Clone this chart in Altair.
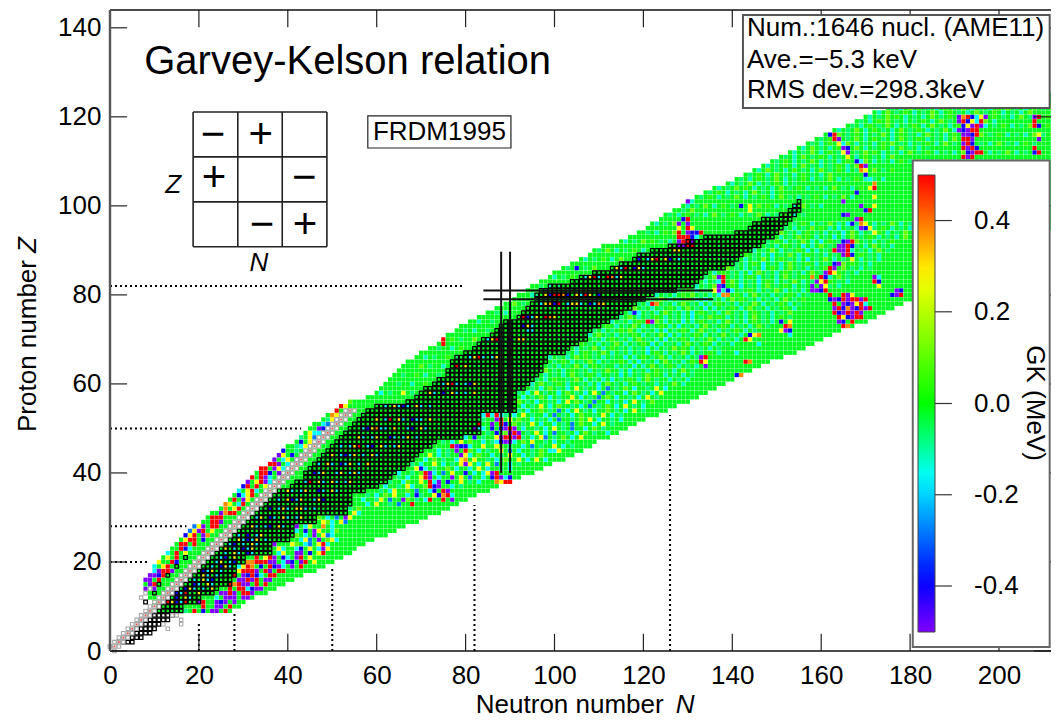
import altair as alt
import pandas as pd

FONT = "Liberation Sans"
XMAX, YMAX = 211.7, 144

# --- extent of the calculated table, one entry per Z (from Z=9)
Z_FIRST = 9
N_MIN = [11,10,10,9,9,8,8,8,9,10,10,11,12,13,14,15,16,17,18,19,21,22,23,25,26,27,28,29,30,31,32,33,34,36,37,38,39,40,42,43,44,45,46,48,49,51,52,54,
         58,60,61,62,63,64,65,66,67,69,70,72,74,75,76,78,79,81,83,85,87,89,91,92,94,95,97,99,100,102,104,106,108,109,111,115,117,119,121,122,124,125,127,129,130,132,134,136,139,141,143,145,147,149,151,153,155,157,159,161,163,166,168,170,172,175,178,180,183]
N_MAX = [27,29,30,32,35,37,39,41,43,46,48,50,52,54,55,57,59,62,64,66,69,71,74,76,78,80,82,85,87,90,92,95,97,99,102,104,106,108,109,112,114,116,118,120,123,125,127,130,
         132,134,136,138,140,142,144,146,148,151,154,156,158,160,162,164,167,170,172,174,176,178,180,182,184,186,188,190,192,194,196,198,200,202,204,206,208,210,212,214,214,214,214,214,214,214,214,214,214,214,214,214,214,214,214,214,214,214,214,214,214,214,214,214,214,214,214,214,214]

# --- measured nuclei (black squares): first and last N per Z (from Z=2)
BAND_Z_FIRST = 2
BAND_L = [3,4,5,6,7,8,9,11,11,12,13,15,16,17,18,19,20,21,22,23,24,25,26,27,28,29,30,31,32,33,34,35,36,37,38,41,42,44,44,45,46,47,48,49,50,51,52,53,54,55,56,57,58,60,67,69,70,71,73,74,76,76,77,77,78,80,82,83,84,86,87,88,89,92,93,94,95,96,96,97,99,104,106,109,113,115,118,119,122,126,130,134,141,144,145,147,151,153,154,155]
BAND_R = [5,7,9,10,11,13,14,16,16,20,20,23,24,27,27,28,28,28,30,30,36,36,36,40,41,41,41,46,46,53,53,54,54,54,57,60,62,63,64,66,67,68,69,70,72,73,79,83,83,83,83,83,91,91,91,91,91,93,94,95,96,97,97,98,98,102,103,105,107,107,108,110,112,114,115,117,118,120,122,127,131,132,133,134,138,140,141,142,144,146,147,149,150,151,152,153,154,155,155,155]
EXTRA_BLACK_N = [8,10,11,13,15,17]
EXTRA_BLACK_Z = [11,13,15,17,19,21]

# --- light-grey squares around N=Z
GRAY_Z_LAST = 54
GRAY_EXTRA_N = [0,1,2,3,7,8,9,14,15,16,12,13,16]
GRAY_EXTRA_Z = [1,0,2,3,12,13,14,8,8,6,6,5,7]

# --- colour codes
CODES = {"p":-0.5,"b":-0.4,"a":-0.28,"c":-0.16,"t":-0.08,"g":-0.02,"l":0.1,"y":0.28,"o":0.38,"r":0.5}
# the speckle above Z=60 is paler than the strong cells
SOFT_CODES = {"a":-0.17,"c":-0.12,"t":-0.07,"l":0.05,"y":0.11,"b":-0.4,"p":-0.5,"r":0.5}
SOFT_FROM_Z = 60

# fine speckle of the green area, estimated row by row (Z, first N, cells)
SPECKLE = [
 (33,56,"..c.y..t.ag.r.."),(34,57,"c..ty.a..pl.t.cr."),(35,58,"t.c.l.y..c.bt..y.g.c"),(36,59,"..t.cy..l.a..c.y.p.."),
 (37,61,".c..t.yc..l.r.b.c.t.."),(38,63,"t..cl..y.a..cb..y.t.c."),(39,64,".t.c..y.l.c..p.y.a..c."),(40,65,"c..t.l..c.a.y..b.c..t."),
 (41,67,"..y.c.t..l.c.a..y.c..t.c"),(42,68,"t.c..y.c.t...l.c.y.a..c.t"),(43,70,".c.l.t..c.a.y..t.c.l..y.c."),(44,72,"y.c.t..a.c.l..c.t.y..c.t.l."),
 (45,74,"c.t.b..l.c.t..y.a.c..t.l.c.."),(46,75,"..r.t.c..y.c.l.t..c.a.t..y.c.t"),(47,75,"t.c.y.l..c.t..a.c.l.y..t.c..t."),(48,80,"c.b.t..y.c.l.t.c..a.t.l.c.y."),
 (49,84,".t.c.l.c..t.y.c.a..t.c.l.t..c."),(50,84,"c..y.t.l.c..t.c.y.t.a..c.l.t."),(51,84,"..t.c..l.t.y.c..c.t.a.l..c.y.t"),(52,84,"t.c.t.y.l..c.t.c.a..t.l.y.c..t.c"),
 (53,84,"c.l..t.c.y.t..c.a.t.c.l..t.y.c.t"),(54,92,"t.c..l.t.a.c.y.t.c..l.t.c.y.t."),(55,92,".c.t.y.c.l..t.c.a.t.l.c.y.t.c.."),(56,92,"l.t.c..t.c.y.l.t.a..c.t.c.y.t.l"),
 (57,92,".c.t.l.c.t..y.c.t.a.l.c..t.c.y.t"),(58,92,"t.c.y.t..c.l.t.c.y.a.t..c.l.t.c.y"),(59,94,".t.c.l.t.c.y.t..c.a.t.l.c..t.y.c"),(60,95,"c.y.t.l.c..t.c.a.y.t.c.l.t..c.t.y.c"),
 (61,96,"t.c.l..t.y.c.t.c.a.t.l.c.y.t..c.t.c"),(62,97,".c.t.c.y.t.l.c..t.a.c.t.y.l.c.t.c.t"),(63,98,"y.t.c.l.t.c.t.y..c.a.t.c.l.t.c.y.t"),(64,99,"t.c.t.y.c.l.t..c.t.a.c.y.t.l.c.t.c."),
 (65,99,".t.l.c.t.y.c.t..l.c.a.t.c.y.t.c.l.t"),(66,99,"c.t.c.y.l.t.c.t..a.c.l.t.y.c.t.c.t.l"),(67,103,"t.c.l.t.y.c.t.c.t.a.l.c.t.y.c.t.l.c"),(68,104,".c.t.y.c.l.t.c.t.a.c.t.y.l.c.t.c.t"),
 (69,106,"l.t.c.t.y.c.t.l.a.c.t.c.y.t.l.c.t.c"),(70,108,".t.c.l.t.c.y.t.c.a.t.l.c.t.y.c.t.c.l"),(71,108,"c.y.t.c.t.l.c.t.y.a.c.t.l.c.t.y.t.c"),(72,109,"t.c.t.l.y.c.t.c.a.t.l.c.y.t.c.t.l.c.t"),
 (73,111,".l.c.t.y.c.t.l.c.a.t.c.y.t.l.c.t.c.y.t"),(74,113,"c.t.c.l.t.y.c.t.a.c.l.t.c.y.t.c.l.t.c"),(75,115,"t.y.c.t.l.c.t.c.a.t.y.l.c.t.c.y.t.c.l.t"),(76,116,".c.l.t.c.y.t.c.a.l.t.c.y.t.c.l.t.c.t.y"),
 (77,118,"y.t.c.t.l.c.y.t.a.c.t.l.c.y.t.c.t.l.c"),(78,119,"t.c.l.t.c.y.t.a.c.l.t.c.t.y.c.t.l.c.t"),(79,121,".t.y.c.t.l.c.a.t.c.y.l.t.c.t.c.y.t.l"),(80,123,"c.t.c.l.y.t.c.a.t.l.c.y.t.c.t.l.c.t"),
 (81,128,"t.l.c.t.y.c.a.t.l.c.t.y.c.t.c.l.t"),(82,132,"c.t.y.c.l.a.t.c.y.t.l.c.t.c.y.t.c"),(83,133,".c.t.l.y.c.t.a.l.c.t.y.c.t.c.l.t.c"),(84,134,"t.y.c.t.c.l.a.t.c.y.t.l.c.t.c.y.t"),
 (85,135,".c.l.t.c.a.y.t.c.l.t.c.y.t.c.l.t.c"),(86,139,"y.t.c.t.a.l.c.y.t.c.t.l.c.y.t.c.t"),(87,141,"t.c.l.a.t.c.y.t.l.c.t.c.y.l.t.c."),(88,142,".c.t.y.c.l.t.c.a.t.y.c.t.l.c.t.c"),
 (89,143,"l.t.c.a.t.y.c.l.t.c.t.y.c.l.t.c"),(90,145,"c.t.y.c.t.l.a.c.t.y.l.c.t.c.y.t"),(91,147,".t.c.l.t.a.c.y.t.l.c.t.c.y.t.c"),(92,148,"t.l.c.t.y.c.a.l.t.c.y.t.c.t.l."),
 (93,150,".c.t.y.l.c.t.a.c.y.t.l.c.t.c.y"),(94,151,"y.t.c.l.t.c.t.a.y.c.t.l.c.t.y."),(95,152,"t.c.t.y.l.c.a.t.c.y.t.l.c.t.c"),(96,153,".t.l.c.t.y.c.a.t.l.c.t.y.c.t."),
 (60,64,".t..c..l."),(58,61,"c.t..y.t."),(62,66,"t..l.c..t"),(64,68,"..y.t..c."),(66,71,"c.t..l.t"),(68,74,"t..c.l."),(70,77,"l.t..y"),(72,80,"t.c..t"),(74,83,"c..t"),
 (76,87,"t.c"),(78,91,"y.t"),(80,94,".ct"),(82,97,"t.c.t"),(84,100,"c.t.l"),(86,103,"t.b.t.y"),(88,107,"c.t.l.c.y"),(90,110,"t.y.c.t.l.c"),(92,116,"c.t.y.l.t.c"),
 (94,121,"t.c.l.y"),(96,123,"c.t.y"),(98,126,"t.c.l.t.c.y.t.l.c.t.y.c.t.l.c.t"),(100,130,"c.t.y.c.l.t.c.t.y.l.c.t.c.y.t.c"),(102,133,"t.l.c.t.y.c.t.l.c.y.t.c.t.l.c.t.y.c"),
 (104,137,"c.t.y.l.c.t.c.y.t.l.c.t.c.y.t.c.l.t"),(106,142,"t.c.l.t.y.c.t.l.c.t.y.c.t.l.c.t.c"),(108,146,"c.y.t.c.l.t.c.y.t.l.c.t.c.y.t.l"),(110,150,"t.l.c.t.y.c.t.c.l.t.y.c.t.c.l.t.y.c.t.l.c.t.y.c.t.c.l"),
 (112,154,"c.t.y.c.l.t.c.t.y.l.c.t.c.y.t.l.c.t.c.y.t.l.c.t.y.c.t.l"),(114,158,"t.c.l.t.y.c.t.c.l.y.t.c.t.l.c.y.t.c.l.t.c.y.t.c.l.t"),(116,162,"c.y.t.l.c.t.y.c.l.t.c.y.t.c.l.t.c.y.t.l.c.t.c.y.t.l"),
 (118,167,"t.c.l.t.y.c.t.l.c.y.t.c.l.t.c.y.t.l.c.t.y.c.l.t.c.y"),(120,171,"c.t.y.l.c.t.c.y.t.l.c.t.y.c.l.t.c.y.t.c.l.t.y.c.t.l.c.y"),(122,176,"t.c.y.l.t.c.l.t.y.c.t.c.l.y.t.c.l.t.y.c.t.l.c.y.t"),
 (99,128,".t.y"),(101,131,"c.."),(103,135,"t.l.c.t.c.y.t.c.l"),(105,140,"c.t.y.c.t.l.c.t"),(107,144,"t.l.c.y.t.c.l.t.c.y"),(109,148,"c.t.l.c.y.t.c.t.l.c.y.t"),(111,152,"t.c.y.t.l.c.t.y.c.l.t.c.y"),
 (113,156,"c.y.t.c.l.t.y.c.t.l.c.y.t.c.t"),(115,160,"t.l.c.t.y.c.l.t.c.y.t.l.c.t.c.y"),(117,164,"c.t.y.c.l.t.c.y.t.l.c.t.y.c.t.l"),(119,169,"t.c.l.y.t.c.t.l.c.y.t.c.l.t.y.c"),(121,173,"c.y.t.l.c.t.y.c.l.t.c.y.t.l.c.t.c.y"),
]
SPOTS = [
 (9,17,"tgrgbgpp.r"),(10,21,"rggppgr"),(11,20,"prggpbpgp"),(12,24,"cgpppgpp"),(13,25,"pprpgrrp"),(14,27,"rgrrcbpp"),
 (15,27,"rorppgrgr"),(16,28,"gpprprgpp"),(17,28,"rgpbrbcgrrg"),(18,28,"gyrrrpgrpgrr"),(19,28,"gcyrogbgrbpcgpgr"),
 (20,31,"oorrrppgcpbgprgy"),(21,31,"ggrgyrpgbcgprgyg"),(22,37,"gcyggppgbgyrg"),(23,37,"gycggcbgygcpy"),(24,37,"pgggylgcagyrc"),
 (25,41,"ggcyagpglyc"),(26,42,"lgcgpgyacgg"),(27,42,"cgbgpyggcl"),(28,42,"pgcyggogc"),(29,47,"gylcgya"),(30,47,"lgcgagpy"),
 (31,54,"gyc"),(32,54,"tgl"),
 (14,8,"pgp"),(15,8,"gprg"),(16,8,"ppgr"),(17,9,"ppbr"),(18,10,"cprrp"),(19,10,"cgyrg"),(20,11,"yggrb"),(21,12,"gygrg"),
 (22,13,"cgrgyg"),(23,14,"ggrbc"),(24,15,"grrgr"),(25,16,"gyrrgb"),(26,17,"byrgpo"),(27,18,"ayprgy"),(28,19,"aypgrr"),
 (29,20,"gggrrp"),(30,21,"ggrrrg"),(31,23,"ggporr"),(32,24,"cgogyr"),(33,25,"coygcr"),(34,26,"tgrgpy"),(35,28,"gbcyrg"),
 (36,29,"cgyrcg"),(37,30,"brgrgy"),(38,31,"pgyrpc"),(39,32,"rgrpcg"),(40,33,"grrbgp"),(41,34,"rrgpyc"),(42,36,"rrpgcy"),
 (43,37,"pgcygb"),(44,38,"pygbgt"),(45,39,"bggtgc"),(46,40,"ggtcyg"),(47,42,"gbgycp"),(48,43,"tgyaoc"),(49,44,"gyccgr"),
 (50,45,"ggpbcg"),(51,48,"cacg"),(52,49,"tyb"),(53,50,"oy"),(54,51,"rg"),(55,52,"ry"),(56,54,"l"),
 (13,14,"pbcrggy"),(12,13,"rgbgyc"),(11,13,"rybcrg"),(14,17,"bycgcgy"),(15,18,"gbcgyc"),(16,19,"cgycbgg"),(17,20,"gycgcg"),
 (18,21,"bcygcg"),(19,22,"gcgbyc"),(20,24,"cygcb"),(21,24,"gcbgy"),(22,26,"cgycgbcg"),(23,26,"ygcgbcy"),(24,27,"cbgcgyc"),
 (25,28,"gycbcygcg"),(26,29,"cgbgcyg"),(28,31,"gycgcbgyc"),(30,33,"cygbcgycgcy"),(32,36,"bgcycgyycgcg"),(34,38,"cgybcyggcyb"),
 (36,40,"ycgcyggbcgyc"),(38,43,"gcrgycgycgcy"),(40,46,"bcyggcygcycg"),(42,47,"cgycgbcygcgy"),(44,50,"ygcbcygcgyc"),(46,52,"cgcyrgcbgycgcyg"),
 (48,55,"gycgcyggbcgcygc"),(50,57,"cbyoccgyggcbgyc"),(52,60,"ygcrgycgbccgy"),(55,62,"cgycbcgycgc"),(58,72,"ycgbgycgcgy"),(60,75,"cyrcgcbyg"),
 (64,78,"r.y"),(66,80,"gcyrcgcy"),(70,85,"cyrcgbgyy"),(75,93,"rbcygroyg"),(78,96,"gcyobrgcyycgbcoyg"),(80,98,"ybrrobgycrygb"),(84,107,"cyrcgrocy"),
 (88,119,"bgcyrgybgc"),(86,114,"ycrgbyc"),
 (53,85,"rcrc"),(52,86,"gpr"),(51,86,"pgrb"),(50,86,"bgbprp"),(49,87,"bg.prp"),(48,87,"yprrpr"),(47,87,"cbpp"),(46,86,"gy"),
 (41,70,"b"),(40,71,"rp"),(39,71,"rpg"),(38,72,"rcpg"),(37,72,"rbpg"),(36,73,"bgrp"),(35,73,"ybor"),(34,75,"rgp"),
 (46,78,"pbb"),(45,78,"p.r"),(44,79,"py"),(43,79,"yog"),(42,79,"ypy"),(41,80,"gc"),
 (40,84,"cypr"),(39,86,"brpcb"),(38,87,"oyrrpg"),(70,75,"r"),(69,75,"r"),(50,82,"pc"),(51,83,"rg"),
 (73,92,"gbyc"),(72,94,"cc"),(60,56,"y"),(48,95,"cgy"),(45,100,"cy"),(43,96,"y.c"),(44,115,"pr"),(43,113,"rb"),(42,114,"by"),
 (97,129,"br"),(96,128,"p.p"),(95,128,"y.ry"),(94,128,"r.pbbr"),(93,128,"rrrbc"),(92,128,"prrp"),(91,128,"pprr"),(90,127,"yy"),
 (100,142,"b.y"),(99,144,"y"),(101,130,"p"),(99,122,"c"),
 (84,137,"pr"),(83,137,"cr"),(82,137,"pb"),(81,136,"yp.b"),(80,138,"oo"),(78,122,"ro"),(76,118,"bc"),(74,121,"rp"),
 (92,165,"bpr"),(91,164,"pprb"),(90,163,"rppr"),(89,165,"prb"),(88,167,"y"),(87,163,"bp"),(86,162,"rp"),(85,161,"pry"),
 (84,158,"o.rb"),(83,159,"pyr"),(82,158,"p.py"),(81,158,"ppbr"),(80,162,"rg.rpy"),(79,162,"bpbrprrpr"),(78,163,"rgpbpyrc"),
 (77,163,"prbopbrpr"),(76,163,"rbprprp"),(75,164,"rybprr"),(74,164,"pbgr"),(73,165,"ro"),
 (84,172,"pc"),(83,172,"rb"),(82,173,"y"),(81,177,"pb"),(80,176,"bpr"),
 (116,162,"br"),(115,163,"rp"),(114,164,"yc"),(113,165,"pb"),(112,165,"yp"),(111,166,"y"),(110,168,"bc"),(109,169,"rp"),
 (108,169,"oy"),(107,170,"b"),(106,171,"c"),(105,172,"o"),(104,171,"yr"),(102,172,"y"),(100,172,"y"),(98,165,"bp"),(97,168,"pr"),
 (96,167,"b.oy"),(95,169,"pby"),(94,172,"y"),(103,168,"b"),(101,165,"p"),(100,169,"p"),(99,170,"br"),
 (74,151,"b.y"),(73,152,"ro"),(72,151,"ypb"),(71,153,"c"),(71,144,"byo"),(70,143,"ry"),(69,146,"c"),
 (66,133,"pr"),(65,133,"ry"),(64,134,"p"),(62,141,"bo"),(61,142,"y"),(67,141,"c"),(65,143,"ro"),
 (120,190,"gporbcyp"),(119,191,"prbycr"),(118,192,"byprpc"),(117,191,"pbprr"),(116,192,"ppbr"),(115,192,"rrp"),(114,192,"prb"),
 (113,192,"rprb"),(112,193,"bprr"),(111,192,"rpr"),(120,208,"pr"),(119,208,"r"),(118,208,"rb"),(116,209,"y"),(115,209,"p"),(113,208,"r"),(112,208,"br"),
]

# --- annotation values (all in N, Z)
DOT_H = [(20,8.5),(28,17.2),(50,43),(82,79.5)]
DOT_V = [(20,6.3),(28,8.5),(50,19),(82,32.8),(126,53)]
PAIR_N, PAIR_Z = [88,90], [79,81]
TICKS_X = list(range(0,201,20))
TICKS_Y = list(range(0,141,20))
TICK_LEN_X, TICK_LEN_Y = 3.85, 3.85
GRID_N = [18.7,28.75,38.75,48.8]
GRID_Z = [121.1,111.0,100.9,90.8]
SIGNS = [("\u2212",23.2,116),("+",33.9,116),("+",23.4,106.3),("\u2212",43.7,106.3),("\u2212",34.2,95.7),("+",43.9,95.7)]
CB_TICKS = [96.7,76.2,55.6,35.1,14.6]
STATS = [("Num.:1646 nucl. (AME11)",140.0),("Ave.=\u22125.3 keV",132.8),("RMS dev.=298.3keV",126.0)]

# --- build tables
val = {}
for i,(a,b) in enumerate(zip(N_MIN,N_MAX)):
    for n in range(a,b+1):
        val[(n,Z_FIRST+i)] = CODES["g"]
for z,n0,s in SPECKLE:
    table = SOFT_CODES if z>=SOFT_FROM_Z else CODES
    for k,ch in enumerate(s):
        if ch!="." and (n0+k,z) in val:
            val[(n0+k,z)] = table[ch]
for z,n0,s in SPOTS:
    for k,ch in enumerate(s):
        if ch!="." and (n0+k,z) in val:
            val[(n0+k,z)] = CODES[ch]
cells = pd.DataFrame([{"N":k[0],"Z":k[1],"GK":v} for k,v in val.items()])

black=[]
for i,(a,b) in enumerate(zip(BAND_L,BAND_R)):
    for n in range(a,b+1):
        black.append({"N":n,"Z":BAND_Z_FIRST+i})
black += [{"N":n,"Z":z} for n,z in zip(EXTRA_BLACK_N,EXTRA_BLACK_Z)]
black = pd.DataFrame(black)

gray=[]
for z in range(1,GRAY_Z_LAST+1):
    for d in (-1,0,1):
        if z+d>=0: gray.append({"N":z+d,"Z":z})
gray += [{"N":n,"Z":z} for n,z in zip(GRAY_EXTRA_N,GRAY_EXTRA_Z)]
gray = pd.DataFrame(gray)
magic = pd.DataFrame([{"N":z,"Z":z} for z in range(1,GRAY_Z_LAST+1)])

xs = alt.Scale(domain=[0,XMAX],nice=False,zero=False)
ys = alt.Scale(domain=[0,YMAX],nice=False,zero=False)
X = lambda f="N": alt.X(f"{f}:Q",scale=xs,title=None)
Y = lambda f="Z": alt.Y(f"{f}:Q",scale=ys,title=None)

def segs(rows,**kw):
    d = pd.DataFrame(rows,columns=["a","b","c","d"])
    return alt.Chart(d).mark_rule(**kw).encode(x=alt.X("a:Q",scale=xs,title=None),x2="c:Q",y=alt.Y("b:Q",scale=ys,title=None),y2="d:Q")

def txt(rows,size=26,**kw):
    d = pd.DataFrame(rows,columns=["t","N","Z"])
    return alt.Chart(d).mark_text(font=FONT,fontSize=size,color="black",**{"align":"left","baseline":"middle",**kw}).encode(x=X(),y=Y(),text="t:N")

def box(a,b,c,d,**kw):
    return alt.Chart(pd.DataFrame([{"a":a,"b":b,"c":c,"d":d}])).mark_rect(**kw).encode(x=alt.X("a:Q",scale=xs,title=None),x2="c:Q",y=alt.Y("b:Q",scale=ys,title=None),y2="d:Q")

colors = alt.Scale(domain=[-0.5,-0.39,-0.16,0.0,0.28,0.5],range=["#8000ff","#0000ff","#00ffff","#00ff00","#ffff00","#ff0000"],clamp=True,interpolate="rgb")

base = alt.Chart(cells).mark_point(shape="square",filled=True,size=18,opacity=1,strokeWidth=0,clip=True).encode(
    x=alt.X("N:Q",scale=xs,title=None,axis=alt.Axis(values=TICKS_X,grid=False,ticks=False,domain=False,labelFont=FONT,labelFontSize=26,labelColor="black",labelPadding=11,labelFlush=False,labelOverlap=False)),
    y=alt.Y("Z:Q",scale=ys,title=None,axis=alt.Axis(values=TICKS_Y,grid=False,ticks=False,domain=False,labelFont=FONT,labelFontSize=26,labelColor="black",labelPadding=9,labelFlush=False,labelOverlap=False)),
    color=alt.Color("GK:Q",scale=colors,legend=alt.Legend(title=None,orient="none",legendX=808,legendY=165,direction="vertical",type="gradient",
        gradientLength=457,gradientThickness=17,gradientStrokeColor="#444",gradientStrokeWidth=1,values=[-0.4,-0.2,0.0,0.2,0.4],
        labelFont=FONT,labelFontSize=26,labelColor="black",labelAlign="right",labelOffset=39,labelOverlap=False,
        labelExpr="replace(format(datum.value,'.1f'),'\u2212','-')")),
)
blk = alt.Chart(black).mark_point(shape="square",filled=False,size=13,opacity=1,stroke="black",strokeWidth=1.25).encode(x=X(),y=Y())
gry = alt.Chart(gray).mark_point(shape="square",filled=True,fill="white",size=12,opacity=1,stroke="#a8a8a8",strokeWidth=1.1).encode(x=X(),y=Y())
red = alt.Chart(magic).mark_point(shape="square",filled=True,size=3,opacity=1,color="#e8504a",strokeWidth=0).encode(x=X(),y=Y())

dots = [segs([(0,z,n,z) for z,n in DOT_H],strokeDash=[2,3],strokeWidth=2,color="black"),
        segs([(n,0,n,z) for n,z in DOT_V],strokeDash=[2,3],strokeWidth=2,color="black")]
solid = [segs([(n,40,n,89.7) for n in PAIR_N],strokeWidth=2,color="#111"),
         segs([(84,z,135.7,z) for z in PAIR_Z],strokeWidth=2,color="#111")]
ticks = [segs([(t,0,t,TICK_LEN_Y) for t in TICKS_X]+[(t,YMAX,t,YMAX-TICK_LEN_Y) for t in TICKS_X],strokeWidth=1.2,color="#222"),
         segs([(0,t,TICK_LEN_X,t) for t in TICKS_Y]+[(XMAX,t,XMAX-TICK_LEN_X,t) for t in TICKS_Y],strokeWidth=1.2,color="#222")]
frame = [segs([(0,0,XMAX,0),(0,YMAX,XMAX,YMAX)],strokeWidth=1.4,color="#111"),
         segs([(0,0,0,YMAX)],strokeWidth=2.4,color="#555")]
grid = [segs([(n,GRID_Z[0],n,GRID_Z[-1]) for n in GRID_N],strokeWidth=1.6,color="#222"),
        segs([(GRID_N[0],z,GRID_N[-1],z) for z in GRID_Z],strokeWidth=1.6,color="#222")]

labels = [
    txt([("Garvey-Kelson relation",7.7,129.7)],size=40,baseline="alphabetic"),
    txt([(s,n,z) for s,n,z in SIGNS],size=42,align="center"),
    txt([("Z",14.2,104.7),("N",33.5,87.2)],size=26,fontStyle="italic",align="center"),
    box(58,120.2,90.2,113,fill="white",stroke="#222",strokeWidth=1.2),
    txt([("FRDM1995",74.1,116.6)],align="center"),
    box(142.4,142.9,211.4,122,fill="white",stroke="#555",strokeWidth=2),
    txt([(t,143.3,z) for t,z in STATS]),
    box(180.6,110.2,211.4,0.9,fill="white",stroke="#666",strokeWidth=2),
    segs([(185.6,z,189.4,z) for z in CB_TICKS],strokeWidth=1.2,color="#333"),
    txt([("GK (MeV)",208.0,55.7)],angle=90,align="center"),
    txt([("Neutron number",82.3,-12.2)]),
    txt([("N",127.3,-12.2)],fontStyle="italic"),
    txt([("Proton number",-18.4,49.2)],angle=270),
    txt([("Z",-18.4,89.4)],angle=270,fontStyle="italic"),
]

chart = alt.layer(base,blk,gry,red,*dots,*solid,*ticks,*frame,*grid,*labels).properties(
    width=941,height=641,autosize=alt.AutoSizeParams(type="none"),
    padding={"left":102,"top":2,"right":0,"bottom":68},
).configure_view(stroke=None)
chart.save("out.html", embed_options={"renderer": "svg", "actions": False})
